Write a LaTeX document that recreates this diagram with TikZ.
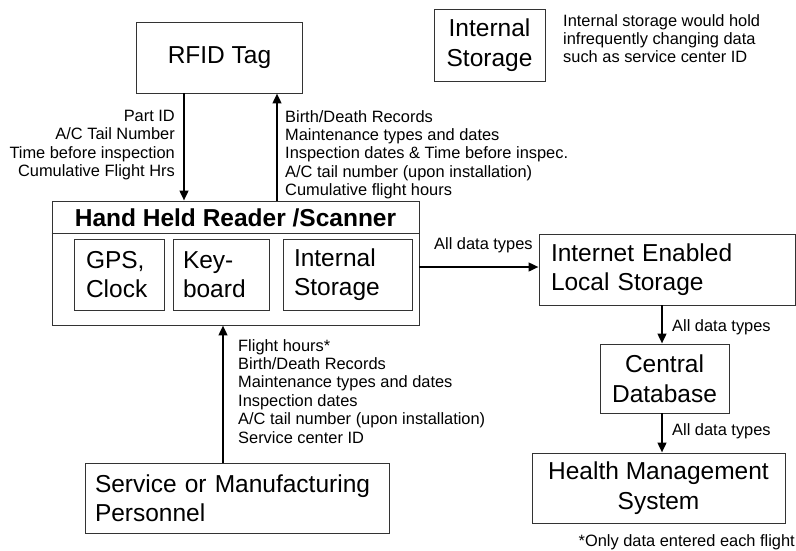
\documentclass[tikz,border=0pt]{standalone}
\usepackage{fontspec}
\setmainfont{Liberation Sans}
\usetikzlibrary{arrows.meta}
\newcommand\bigfnt{\fontsize{24.5}{29.5}\selectfont}
\newcommand\labfnt{\fontsize{16.4}{18.4}\selectfont}
\begin{document}
\begin{tikzpicture}[x=1pt,y=-1pt,
  box/.style={draw=black!80, line width=0.8pt, inner sep=0pt, font=\bigfnt, align=center},
  lbox/.style={box, align=left},
  lab/.style={font=\labfnt, inner sep=0pt},
  arr/.style={line width=2.6pt, -{Triangle[length=10pt,width=8.5pt]}}]
\useasboundingbox (0,0) rectangle (796,550);

% boxes
\node[box, minimum width=166pt, minimum height=71pt] (rfid) at (219.5,57.5) {RFID Tag};
\node[box, minimum width=111pt, minimum height=72pt] (istore) at (489.5,45) {Internal\\Storage};
\node[box, minimum width=367pt, minimum height=124pt] (hh) at (235.5,263) {};
\node[font=\bigfnt\bfseries, inner sep=0pt] (title) at (235.5,218) {Hand Held Reader /Scanner};
\draw[draw=black!80, line width=0.8pt] (hh.west |- 0,233) -- (hh.east |- 0,233);
\node[lbox, text width=66pt, inner xsep=12pt, minimum height=71pt] (gps) at (119,274.5) {GPS,\\Clock};
\node[lbox, text width=76pt, inner xsep=10pt, minimum height=71pt] (kb) at (221,274.5) {Key-\\board};
\node[lbox, text width=107pt, inner xsep=11pt, minimum height=71pt] (ist) at (347.5,274.5) {Internal\\Storage};
\node[lbox, text width=232pt, inner xsep=12pt, minimum height=71pt] (inet) at (667,269.5) {Internet Enabled\\Local Storage};
\node[box, minimum width=129pt, minimum height=69pt] (cdb) at (664.5,378.5) {Central\\Database};
\node[box, minimum width=253pt, minimum height=70pt] (hms) at (658.5,488) {Health Management\\System};
\node[lbox, text width=284pt, inner xsep=10pt, minimum height=70pt] (svc) at (237,498) {Service or Manufacturing\\Personnel};

% connector columns
\coordinate (xA) at (184,0);
\coordinate (xB) at (277,0);
\coordinate (yC) at (0,267);
\coordinate (xD) at (662,0);
\coordinate (xF) at (223,0);

\draw[arr] (rfid.south -| xA) -- (hh.north -| xA);
\draw[arr] (hh.north -| xB) -- (rfid.south -| xB);
\draw[arr] (hh.east |- yC) -- (inet.west |- yC);
\draw[arr] (inet.south -| xD) -- (cdb.north -| xD);
\draw[arr] (cdb.south -| xD) -- (hms.north -| xD);
\draw[arr] (svc.north -| xF) -- (hh.south -| xF);

% labels
\node[lab, align=right, anchor=north east] (labA) at (175,110) {Part ID\\A/C Tail Number\\Time before inspection\\Cumulative Flight Hrs};
\node[lab, align=left, anchor=north west] (labB) at (285,110) {Birth/Death Records\\Maintenance types and dates\\Inspection dates \& Time before inspec.\\A/C tail number (upon installation)\\Cumulative flight hours};
\node[lab, anchor=south west] (labC) at (434,253) {All data types};
\node[lab, anchor=west] (labD) at (672,327) {All data types};
\node[lab, anchor=west] (labE) at (672,431) {All data types};
\node[lab, align=left, anchor=north west] (labF) at (238,339) {Flight hours*\\Birth/Death Records\\Maintenance types and dates\\Inspection dates\\A/C tail number (upon installation)\\Service center ID};
\node[lab, align=left, anchor=north west] (note) at (563,14) {Internal storage would hold\\infrequently changing data\\such as service center ID};
\node[lab, anchor=east] (foot) at (795,542) {*Only data entered each flight};
\end{tikzpicture}
\end{document}
